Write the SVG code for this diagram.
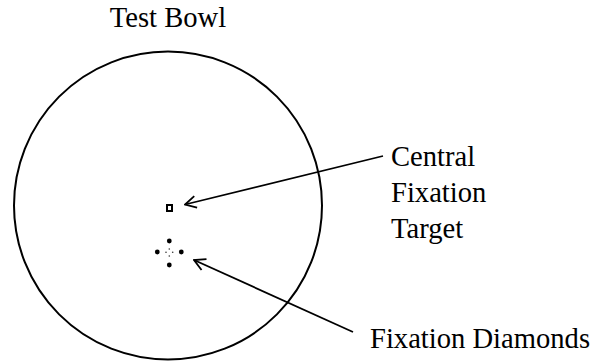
<svg xmlns="http://www.w3.org/2000/svg" width="609" height="362" viewBox="0 0 609 362">
<style>
  .lbl { font-family: "Liberation Serif", "Times New Roman", serif; font-size: 28.6px; fill: #000; }
  .ln { stroke: #000; stroke-width: 1.8; fill: none; }
  .dot { fill: #000; }
  .tiny { fill: #333; }
</style>
<defs>
  <marker id="arr" viewBox="0 0 14 14" refX="13" refY="7" markerWidth="14" markerHeight="14" markerUnits="userSpaceOnUse" orient="auto">
    <path d="M2,1 L13,7 L2,13" fill="none" stroke="#000" stroke-width="1.8"/>
  </marker>
</defs>
<rect width="609" height="362" fill="#fff"/>
<g id="bowl">
  <circle cx="168" cy="205.5" r="154" fill="none" stroke="#000" stroke-width="2"/>
  <text class="lbl" x="168" y="27" text-anchor="middle">Test Bowl</text>
</g>
<g id="central-target">
  <rect x="167" y="205" width="5" height="6" fill="#fff" stroke="#000" stroke-width="2"/>
</g>
<g id="fixation-diamonds">
  <circle class="dot" cx="169.3" cy="241" r="2.4"/>
  <circle class="dot" cx="157.3" cy="252" r="2.4"/>
  <circle class="dot" cx="181.3" cy="252" r="2.4"/>
  <circle class="dot" cx="169.3" cy="265" r="2.4"/>
  <circle class="tiny" cx="169.3" cy="249" r="0.8"/>
  <circle class="tiny" cx="166" cy="252.3" r="0.8"/>
  <circle class="tiny" cx="172.7" cy="252.3" r="0.8"/>
  <circle class="tiny" cx="169.3" cy="256" r="0.8"/>
</g>
<g id="label-central">
  <text class="lbl" x="391" y="166">Central</text>
  <text class="lbl" x="391" y="202">Fixation</text>
  <text class="lbl" x="391" y="238">Target</text>
</g>
<g id="label-diamonds">
  <text class="lbl" x="370" y="348">Fixation Diamonds</text>
</g>
<g id="connectors">
  <path class="ln" d="M383,156 L185,204.5" marker-end="url(#arr)"/>
  <path class="ln" d="M353,332 L194,260" marker-end="url(#arr)"/>
</g>
</svg>
